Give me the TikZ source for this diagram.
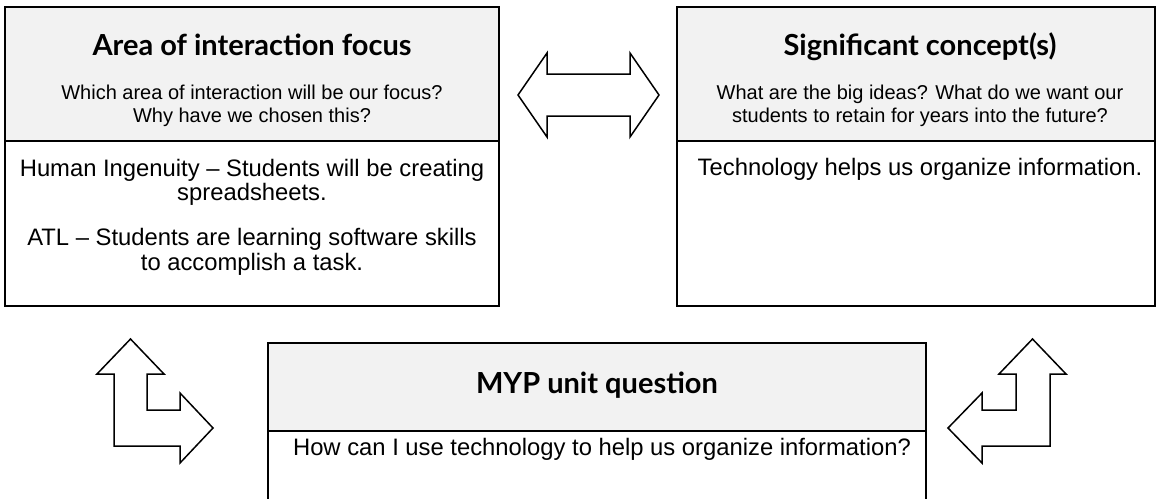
\documentclass[tikz,border=0pt]{standalone}
\usepackage{fontspec}
\setmainfont{Liberation Sans}
\newfontfamily\headfont{Lato}
\definecolor{hdrgrey}{RGB}{242,242,242}
\begin{document}
\begin{tikzpicture}[x=1pt,y=-1pt,
  panel/.style={draw=black, line width=2pt, inner sep=0pt, outer sep=0pt},
  hdr/.style={panel, fill=hdrgrey},
  bodybox/.style={panel, fill=white},
  ttl/.style={anchor=base, inner sep=0pt, font=\headfont\bfseries\fontsize{29}{33}\selectfont},
  sub/.style={anchor=base, inner sep=0pt, font=\fontsize{20}{24}\selectfont},
  txt/.style={anchor=base, inner sep=0pt, font=\fontsize{23.8}{27}\selectfont},
  blockarrow/.style={draw=black, fill=white, line width=1.5pt, line join=miter}]
\useasboundingbox (0,0) rectangle (1156,498);
\clip (0,0) rectangle (1156,498);

% panel: area of interaction
\node[hdr, minimum width=494, minimum height=134] (aHead) at (252,74) {};
\node[bodybox, minimum width=494, minimum height=165] (aBody) at (252,223.5) {};
\node[ttl] (aTitle) at (252,55) {Area of interaction focus};
\node[sub] (aQ1) at (252,99) {Which area of interaction will be our focus?};
\node[sub] (aQ2) at (252,122) {Why have we chosen this?};
\node[txt] (aL1) at (252,176) {Human Ingenuity – Students will be creating};
\node[txt] (aL2) at (252,200) {spreadsheets.};
\node[txt] (aL3) at (252,245) {ATL – Students are learning software skills};
\node[txt] (aL4) at (252,270) {to accomplish a task.};

% panel: significant concepts
\node[hdr, minimum width=478, minimum height=134] (bHead) at (916,74) {};
\node[bodybox, minimum width=478, minimum height=165] (bBody) at (916,223.5) {};
\node[ttl] (bTitle) at (920,55) {Significant concept(s)};
\node[sub] (bQ1) at (920,99) {What are the big ideas? What do we want our};
\node[sub] (bQ2) at (920,122) {students to retain for years into the future?};
\node[txt] (bL1) at (920,175) {Technology helps us organize information.};

% panel: unit question
\node[hdr, minimum width=658, minimum height=88] (cHead) at (597,387) {};
\node[bodybox, minimum width=658, minimum height=79] (cBody) at (597,470.5) {};
\node[ttl] (cTitle) at (597,393) {MYP unit question};
\node[txt] (cL1) at (602,455) {How can I use technology to help us organize information?};

% two-headed block arrow between the upper panels
\draw[blockarrow] (518,95) -- (547,53) -- (547,74) -- (630,74) -- (630,53)
  -- (659,95) -- (630,137) -- (630,116) -- (547,116) -- (547,137) -- cycle;

% bent block arrow, left
\draw[blockarrow] (130.5,339) -- (164,374) -- (147,374) -- (147,410) -- (180,410)
  -- (180,393) -- (213,428) -- (180,463) -- (180,446) -- (114,446) -- (114,374)
  -- (97,374) -- cycle;

% bent block arrow, right
\draw[blockarrow] (1032.5,339) -- (1066,374) -- (1050,374) -- (1050,446) -- (982,446)
  -- (982,463) -- (948,428) -- (982,393) -- (982,410) -- (1016,410) -- (1016,374)
  -- (999,374) -- cycle;
\end{tikzpicture}
\end{document}
